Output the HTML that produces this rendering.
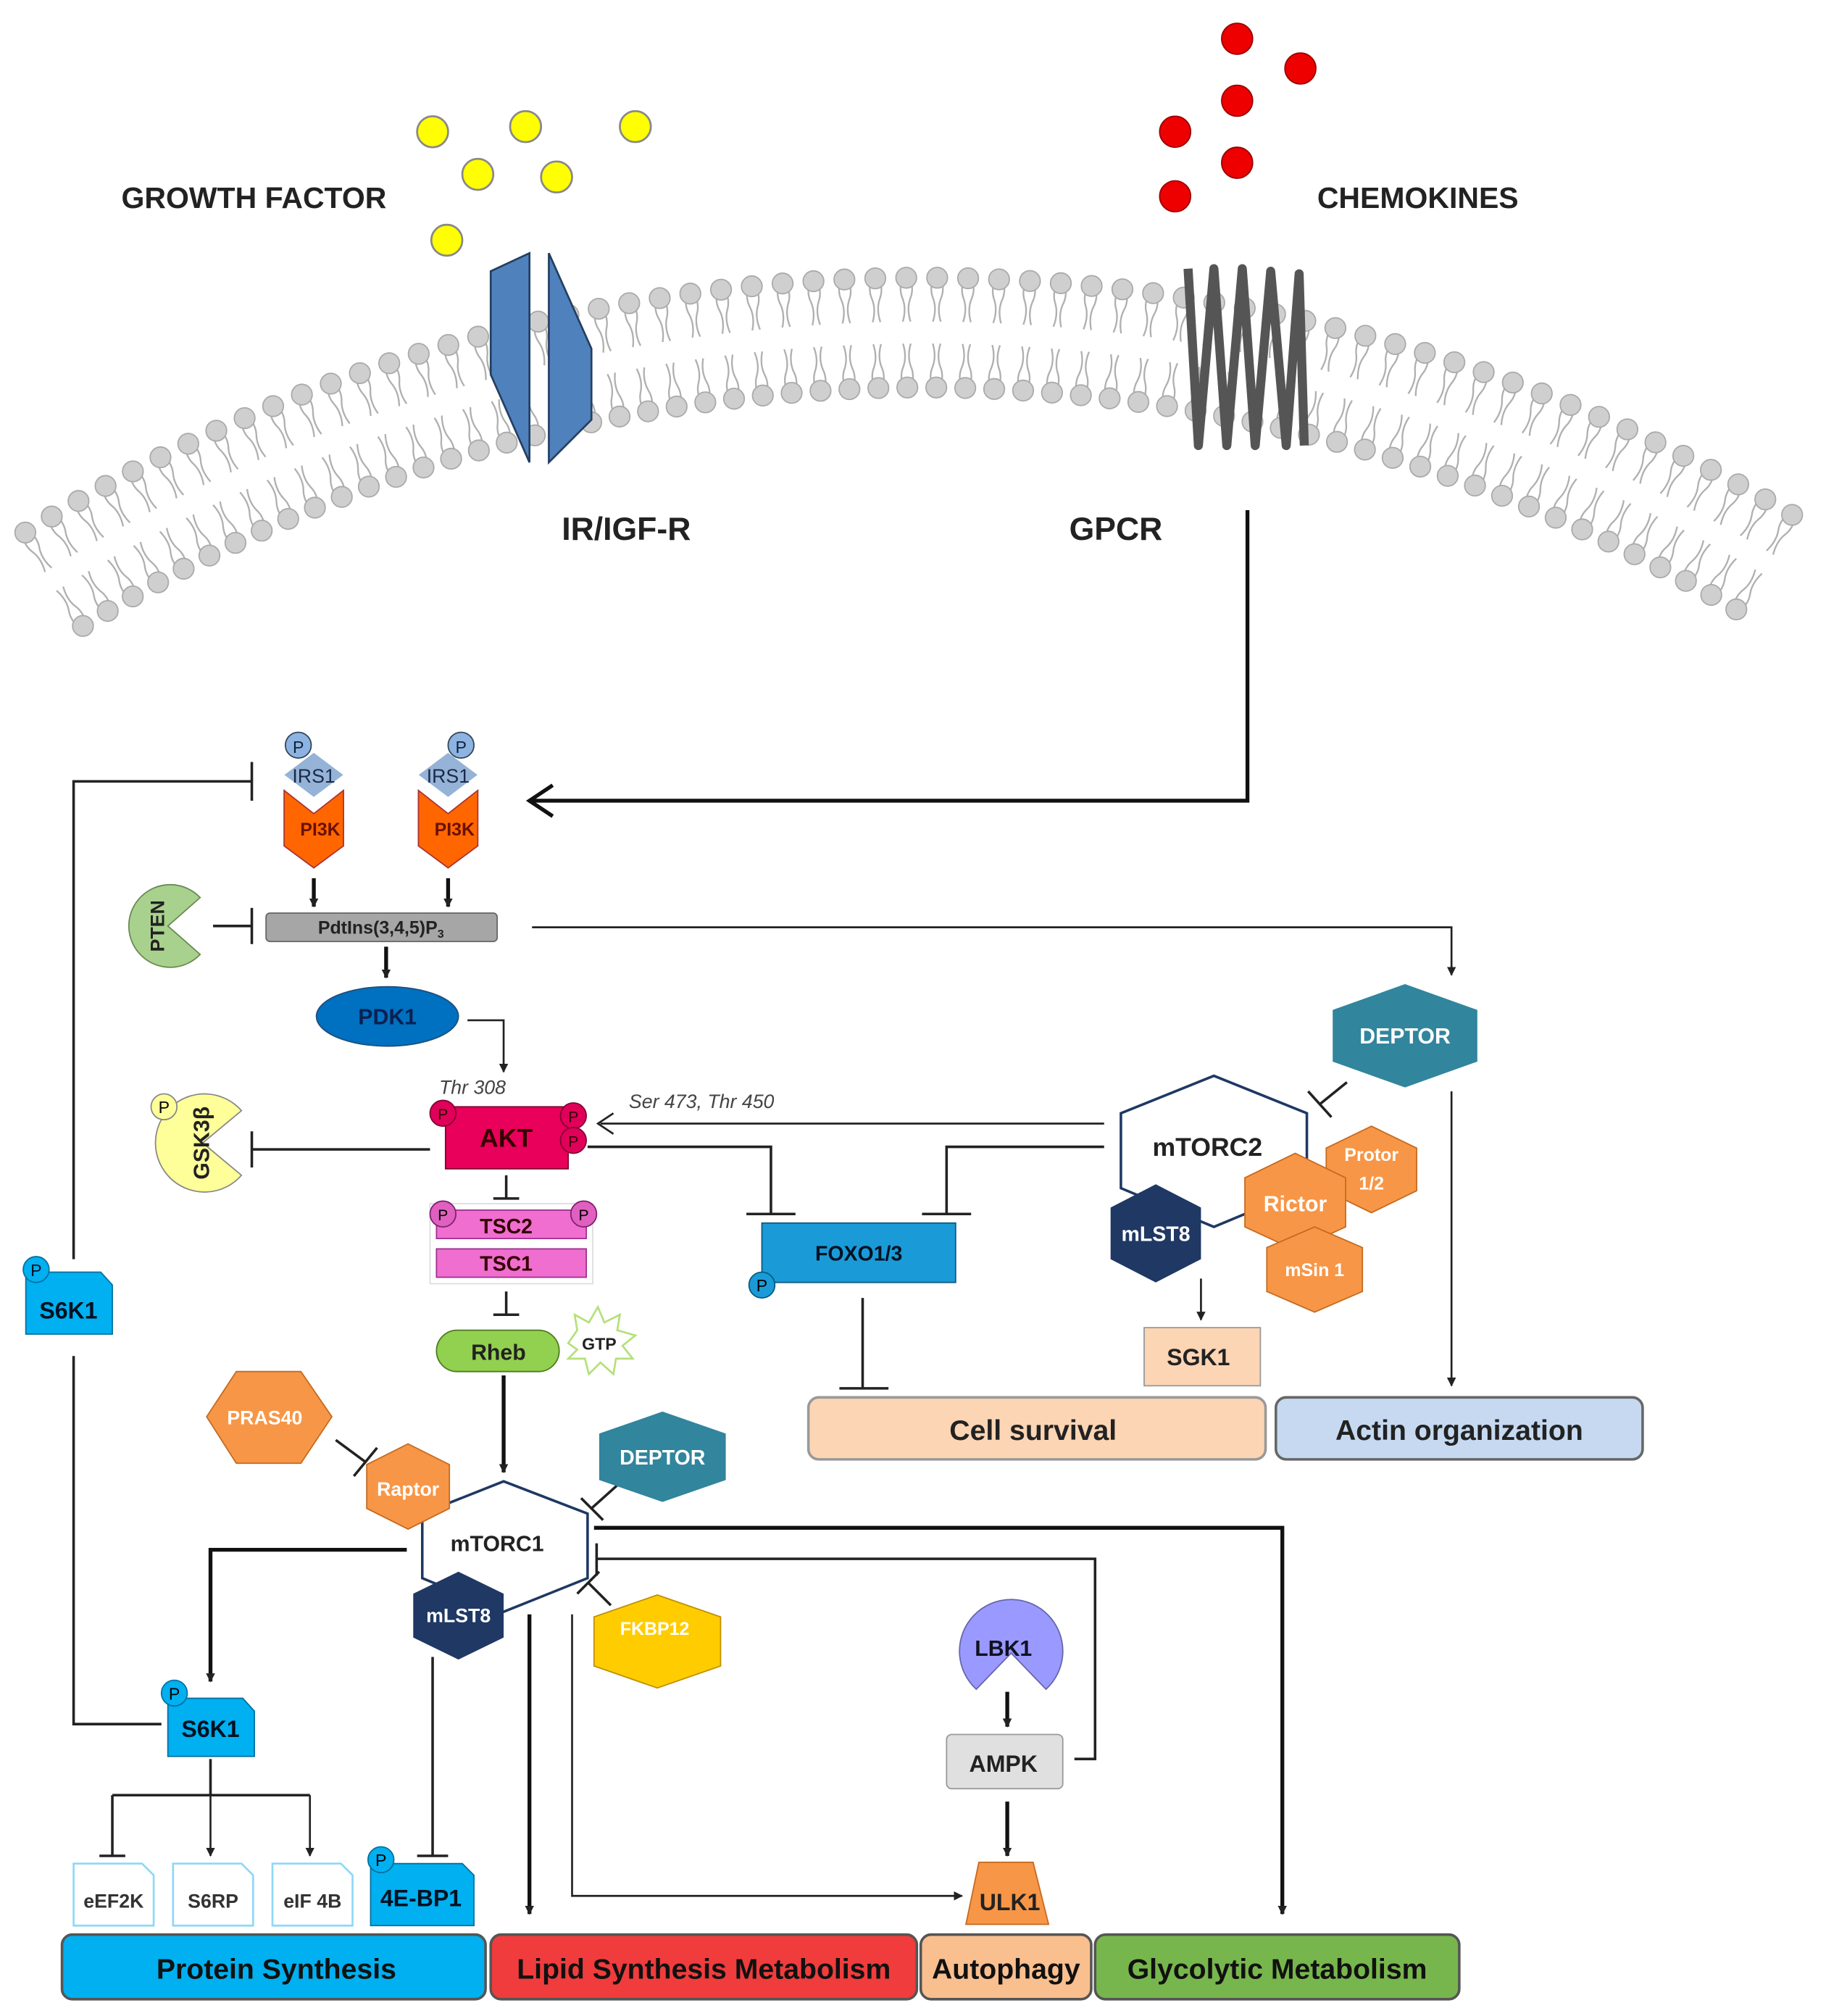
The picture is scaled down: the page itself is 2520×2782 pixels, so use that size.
<!DOCTYPE html>
<html><head><meta charset="utf-8"><style>
html,body{margin:0;padding:0;background:#fff}
svg{display:block}
text{font-family:"Liberation Sans",sans-serif}
</style></head><body>
<svg id="s" width="2520" height="2782" viewBox="0 0 1414 1561" xmlns="http://www.w3.org/2000/svg">
<defs>
<marker id="a" viewBox="0 0 10 10" refX="9" refY="5" markerWidth="7" markerHeight="7" orient="auto" markerUnits="userSpaceOnUse"><path d="M0,0 L10,5 L0,10 z" fill="#222"/></marker>
</defs>
<g id="mem"></g>
<g fill="#ffff00" stroke="#888" stroke-width="1.5">
<circle cx="335" cy="102" r="12"/><circle cx="407" cy="98" r="12"/><circle cx="492" cy="98" r="12"/>
<circle cx="370" cy="135" r="12"/><circle cx="431" cy="137" r="12"/><circle cx="346" cy="186" r="12"/></g>
<g fill="#ee0000" stroke="#900" stroke-width="1">
<circle cx="958" cy="30" r="12"/><circle cx="1007" cy="53" r="12"/><circle cx="958" cy="78" r="12"/>
<circle cx="910" cy="102" r="12"/><circle cx="958" cy="126" r="12"/><circle cx="910" cy="152" r="12"/></g>
<g font-weight="bold" fill="#222" font-size="23">
<text x="94" y="161">GROWTH FACTOR</text><text x="1020" y="161">CHEMOKINES</text>
<text x="435" y="418" font-size="25">IR/IGF-R</text><text x="828" y="418" font-size="25">GPCR</text></g>
<polygon points="380,210 410,196 410,358 380,290" fill="#4f81bd" stroke="#243f60" stroke-width="1.5"/>
<polygon points="425,196 458,270 458,325 425,358" fill="#4f81bd" stroke="#243f60" stroke-width="1.5"/>
<path d="M920,208 L928,345 L940,208 L950,345 L962,208 L972,345 L984,210 L996,345 L1006,212 L1010,345" fill="none" stroke="#555" stroke-width="7" stroke-linejoin="round"/>
<polyline points="966,395 966,620 412,620" fill="none" stroke="#111" stroke-width="3"/>
<polyline points="428,608 410,620 428,632" fill="none" stroke="#111" stroke-width="3"/>
<g stroke="#222" stroke-width="2" fill="none">
<polyline points="57,975 57,605 195,605"/><line x1="195" y1="590" x2="195" y2="620"/>
<polyline points="57,1050 57,1335 125,1335"/>
<line x1="165" y1="717" x2="195" y2="717"/><line x1="195" y1="703" x2="195" y2="731"/>
<polyline points="412,718 1124,718 1124,755" marker-end="url(#a)" stroke-width="1.5"/>
<polyline points="362,790 390,790 390,830" marker-end="url(#a)" stroke-width="1.5"/>
<line x1="855" y1="870" x2="465" y2="870" stroke-width="1.5"/>
<line x1="333" y1="890" x2="195" y2="890"/><line x1="195" y1="876" x2="195" y2="904"/>
<polyline points="455,888 597,888 597,940"/><line x1="578" y1="940" x2="616" y2="940"/>
<polyline points="855,888 733,888 733,940"/><line x1="714" y1="940" x2="752" y2="940"/>
<line x1="392" y1="910" x2="392" y2="928"/><line x1="382" y1="928" x2="402" y2="928"/>
<line x1="392" y1="1000" x2="392" y2="1018"/><line x1="382" y1="1018" x2="402" y2="1018"/>
<line x1="668" y1="1005" x2="668" y2="1075"/><line x1="650" y1="1075" x2="688" y2="1075"/>
<line x1="1043" y1="838" x2="1022" y2="855"/><line x1="1013" y1="845" x2="1031" y2="865"/>
<line x1="1124" y1="845" x2="1124" y2="1073" marker-end="url(#a)" stroke-width="1.5"/>
<line x1="930" y1="990" x2="930" y2="1022" marker-end="url(#a)" stroke-width="1.5"/>
<line x1="260" y1="1115" x2="283" y2="1132"/><line x1="274" y1="1143" x2="292" y2="1121"/>
<line x1="478" y1="1150" x2="458" y2="1168"/><line x1="450" y1="1160" x2="467" y2="1177"/>
<line x1="473" y1="1243" x2="456" y2="1226"/><line x1="447" y1="1234" x2="464" y2="1217"/>
<polyline points="163,1362 163,1390"/><polyline points="87,1390 240,1390"/>
<line x1="87" y1="1390" x2="87" y2="1437"/><line x1="77" y1="1437" x2="97" y2="1437"/>
<line x1="163" y1="1390" x2="163" y2="1437" marker-end="url(#a)" stroke-width="1.5"/>
<line x1="240" y1="1390" x2="240" y2="1437" marker-end="url(#a)" stroke-width="1.5"/>
<line x1="335" y1="1283" x2="335" y2="1437"/><line x1="323" y1="1437" x2="347" y2="1437"/>
<polyline points="443,1250 443,1468 745,1468" marker-end="url(#a)" stroke-width="1.5"/>
<polyline points="832,1362 848,1362 848,1207 462,1207"/><line x1="462" y1="1195" x2="462" y2="1220"/>
</g>
<polyline points="475,862 463,870 475,878" fill="none" stroke="#222" stroke-width="1.5"/>
<g stroke="#111" stroke-width="3" fill="none">
<line x1="243" y1="680" x2="243" y2="702" marker-end="url(#a)"/>
<line x1="347" y1="680" x2="347" y2="702" marker-end="url(#a)"/>
<line x1="299" y1="733" x2="299" y2="757" marker-end="url(#a)"/>
<line x1="390" y1="1065" x2="390" y2="1140" marker-end="url(#a)"/>
<polyline points="315,1200 163,1200 163,1302" marker-end="url(#a)"/>
<line x1="410" y1="1250" x2="410" y2="1482" marker-end="url(#a)"/>
<polyline points="460,1183 993,1183 993,1482" marker-end="url(#a)"/>
<line x1="780" y1="1310" x2="780" y2="1337" marker-end="url(#a)"/>
<line x1="780" y1="1395" x2="780" y2="1437" marker-end="url(#a)"/>
</g>
<g id="ip">
<polygon points="220,612 243,630 266,612 266,655 243,672 220,655" fill="#ff6600" stroke="#a33" stroke-width="1"/>
<polygon points="243,582 267,600 243,618 219,600" fill="#95b3d7" stroke="#fff" stroke-width="1.5"/>
<text x="243" y="606" font-size="15" text-anchor="middle" fill="#1a2a4a">IRS1</text>
<text x="248" y="647" font-size="14" text-anchor="middle" fill="#6a1000" font-weight="bold">PI3K</text>
</g>
<circle cx="231" cy="577" r="10" fill="#8db3e2" stroke="#345" stroke-width="1"/><text x="231" y="583" font-size="13" text-anchor="middle" fill="#123">P</text>
<use href="#ip" x="104"/>
<circle cx="357" cy="577" r="10" fill="#8db3e2" stroke="#345" stroke-width="1"/><text x="357" y="583" font-size="13" text-anchor="middle" fill="#123">P</text>
<rect x="206" y="707" width="179" height="22" rx="3" fill="#a6a6a6" stroke="#666"/>
<text x="295" y="723" font-size="14" text-anchor="middle" fill="#222" font-weight="bold">PdtIns(3,4,5)P<tspan font-size="9" dy="3">3</tspan></text>
<path d="M130,717 L155,695 A32,32 0 1 0 155,739 Z" fill="#a9d18e" stroke="#6a8a50"/>
<text transform="translate(127,717) rotate(-90)" font-size="15" font-weight="bold" text-anchor="middle" fill="#222">PTEN</text>
<ellipse cx="300" cy="787" rx="55" ry="23" fill="#0070c0" stroke="#1f4e79"/>
<text x="300" y="793" font-size="17" font-weight="bold" text-anchor="middle" fill="#0b2050">PDK1</text>
<text x="340" y="847" font-size="15" font-style="italic" fill="#444">Thr 308</text>
<text x="487" y="858" font-size="15" font-style="italic" fill="#444">Ser 473, Thr 450</text>
<rect x="345" y="857" width="95" height="48" fill="#e8005a" stroke="#800030"/>
<text x="392" y="888" font-size="20" font-weight="bold" text-anchor="middle" fill="#300">AKT</text>
<g fill="#e0005a" stroke="#800030"><circle cx="343" cy="862" r="10"/><circle cx="444" cy="864" r="10"/><circle cx="444" cy="883" r="10"/></g>
<g font-size="12" fill="#300" text-anchor="middle"><text x="343" y="867">P</text><text x="444" y="869">P</text><text x="444" y="888">P</text></g>
<path d="M157,885 L187,860 A38,38 0 1 0 187,910 Z" fill="#ffff99" stroke="#888"/>
<circle cx="127" cy="857" r="10" fill="#ffff99" stroke="#888"/><text x="127" y="862" font-size="13" text-anchor="middle">P</text>
<text transform="translate(162,885) rotate(-90)" font-size="17" font-weight="bold" text-anchor="middle" fill="#222">GSK3β</text>
<rect x="333" y="932" width="126" height="62" fill="#fff" stroke="#ddd"/>
<rect x="338" y="937" width="116" height="22" fill="#f06ed0" stroke="#a03090"/>
<rect x="338" y="967" width="116" height="22" fill="#f06ed0" stroke="#a03090"/>
<text x="392" y="955" font-size="16" font-weight="bold" text-anchor="middle" fill="#300">TSC2</text>
<text x="392" y="984" font-size="16" font-weight="bold" text-anchor="middle" fill="#300">TSC1</text>
<g fill="#e060c0" stroke="#802070"><circle cx="343" cy="940" r="10"/><circle cx="452" cy="940" r="10"/></g>
<g font-size="12" text-anchor="middle"><text x="343" y="945">P</text><text x="452" y="945">P</text></g>
<rect x="338" y="1030" width="95" height="32" rx="16" fill="#92d050" stroke="#4e7a1f"/>
<text x="386" y="1053" font-size="17" font-weight="bold" text-anchor="middle" fill="#222">Rheb</text>
<polygon points="440,1040 447,1030 445,1018 456,1024 463,1012 468,1024 480,1018 478,1030 492,1034 482,1042 490,1052 477,1052 475,1064 465,1055 456,1064 453,1052 440,1052 447,1045" fill="#fff" stroke="#b5e07a" stroke-width="1.5"/>
<text x="464" y="1045" font-size="13" font-weight="bold" text-anchor="middle" fill="#222">GTP</text>
<path d="M20,985 L78,985 L87,995 L87,1033 L20,1033 Z" fill="#00b0f0" stroke="#0070a0"/>
<circle cx="28" cy="983" r="10" fill="#00b0f0" stroke="#0070a0"/><text x="28" y="988" font-size="13" text-anchor="middle" fill="#012">P</text>
<text x="53" y="1021" font-size="18" font-weight="bold" text-anchor="middle" fill="#012">S6K1</text>
<rect x="590" y="947" width="150" height="46" fill="#1a9bd7" stroke="#0a5a80"/>
<text x="665" y="976" font-size="16" font-weight="bold" text-anchor="middle" fill="#012">FOXO1/3</text>
<circle cx="590" cy="995" r="10" fill="#1a9bd7" stroke="#0a5a80"/><text x="590" y="1000" font-size="13" text-anchor="middle">P</text>
<rect x="626" y="1082" width="354" height="48" rx="8" fill="#fcd5b4" stroke="#999" stroke-width="2"/>
<text x="800" y="1115" font-size="22" font-weight="bold" text-anchor="middle" fill="#222">Cell survival</text>
<rect x="988" y="1082" width="284" height="48" rx="8" fill="#c6d9f1" stroke="#666" stroke-width="2"/>
<text x="1130" y="1115" font-size="22" font-weight="bold" text-anchor="middle" fill="#222">Actin organization</text>
<polygon points="1088,762 1144,782 1144,822 1088,842 1032,822 1032,782" fill="#31859c"/>
<text x="1088" y="808" font-size="17" font-weight="bold" text-anchor="middle" fill="#fff">DEPTOR</text>
<polygon points="940,833 1012,862 1012,920 940,950 868,920 868,862" fill="#fff" stroke="#1f3864" stroke-width="2"/>
<text x="935" y="895" font-size="20" font-weight="bold" text-anchor="middle" fill="#222">mTORC2</text>
<polygon points="895,917 930,935 930,975 895,993 860,975 860,935" fill="#1f3864"/>
<text x="895" y="961" font-size="16" font-weight="bold" text-anchor="middle" fill="#fff">mLST8</text>
<polygon points="1062,872 1097,889 1097,922 1062,939 1027,922 1027,889" fill="#f79646" stroke="#c46a20"/>
<text x="1062" y="899" font-size="14" font-weight="bold" text-anchor="middle" fill="#fff">Protor</text>
<text x="1062" y="921" font-size="14" font-weight="bold" text-anchor="middle" fill="#fff">1/2</text>
<polygon points="1003,893 1042,912 1042,950 1003,968 964,950 964,912" fill="#f79646" stroke="#c46a20"/>
<text x="1003" y="938" font-size="17" font-weight="bold" text-anchor="middle" fill="#fff">Rictor</text>
<polygon points="1018,950 1055,966 1055,1000 1018,1016 981,1000 981,966" fill="#f79646" stroke="#c46a20"/>
<text x="1018" y="988" font-size="14" font-weight="bold" text-anchor="middle" fill="#fff">mSin 1</text>
<rect x="886" y="1028" width="90" height="45" fill="#fcd5b4" stroke="#999"/>
<text x="928" y="1057" font-size="18" font-weight="bold" text-anchor="middle" fill="#222">SGK1</text>
<polygon points="160,1097 183,1062 233,1062 257,1097 233,1133 183,1133" fill="#f79646" stroke="#c46a20"/>
<text x="205" y="1103" font-size="15" font-weight="bold" text-anchor="middle" fill="#fff">PRAS40</text>
<polygon points="390,1147 455,1172 455,1222 390,1248 327,1222 327,1172" fill="#fff" stroke="#1f3864" stroke-width="2"/>
<text x="385" y="1201" font-size="17" font-weight="bold" text-anchor="middle" fill="#222">mTORC1</text>
<polygon points="316,1118 348,1134 348,1168 316,1184 284,1168 284,1134" fill="#f79646" stroke="#c46a20"/>
<text x="316" y="1158" font-size="15" font-weight="bold" text-anchor="middle" fill="#fff">Raptor</text>
<polygon points="513,1093 562,1110 562,1146 513,1163 464,1146 464,1110" fill="#31859c"/>
<text x="513" y="1134" font-size="16" font-weight="bold" text-anchor="middle" fill="#fff">DEPTOR</text>
<polygon points="355,1217 390,1234 390,1268 355,1285 320,1268 320,1234" fill="#1f3864"/>
<text x="355" y="1256" font-size="15" font-weight="bold" text-anchor="middle" fill="#fff">mLST8</text>
<polygon points="509,1235 558,1252 558,1290 509,1307 460,1290 460,1252" fill="#ffcc00" stroke="#c09000"/>
<text x="507" y="1266" font-size="14" font-weight="bold" text-anchor="middle" fill="#fff">FKBP12</text>
<path d="M130,1315 L188,1315 L197,1325 L197,1360 L130,1360 Z" fill="#00b0f0" stroke="#0070a0"/>
<circle cx="135" cy="1311" r="10" fill="#00b0f0" stroke="#0070a0"/><text x="135" y="1316" font-size="13" text-anchor="middle">P</text>
<text x="163" y="1345" font-size="18" font-weight="bold" text-anchor="middle" fill="#012">S6K1</text>
<g fill="#fff" stroke="#8ed8f8" stroke-width="1.5">
<path d="M57,1443 L110,1443 L119,1452 L119,1491 L57,1491 Z"/>
<path d="M134,1443 L187,1443 L196,1452 L196,1491 L134,1491 Z"/>
<path d="M211,1443 L264,1443 L273,1452 L273,1491 L211,1491 Z"/></g>
<g font-size="15" font-weight="bold" text-anchor="middle" fill="#333">
<text x="88" y="1477">eEF2K</text><text x="165" y="1477">S6RP</text><text x="242" y="1477">eIF 4B</text></g>
<path d="M287,1443 L358,1443 L367,1452 L367,1491 L287,1491 Z" fill="#00b0f0" stroke="#0070a0"/>
<circle cx="295" cy="1440" r="10" fill="#00b0f0" stroke="#0070a0"/><text x="295" y="1445" font-size="13" text-anchor="middle">P</text>
<text x="326" y="1476" font-size="18" font-weight="bold" text-anchor="middle" fill="#012">4E-BP1</text>
<path d="M783,1280 L810,1308 A40,40 0 1 0 756,1308 Z" fill="#9999ff" stroke="#6666aa"/>
<text x="777" y="1282" font-size="17" font-weight="bold" text-anchor="middle" fill="#112">LBK1</text>
<rect x="733" y="1343" width="90" height="42" rx="4" fill="#e0e0e0" stroke="#999"/>
<text x="777" y="1372" font-size="18" font-weight="bold" text-anchor="middle" fill="#222">AMPK</text>
<polygon points="758,1442 800,1442 812,1490 748,1490" fill="#f79646" stroke="#c46a20"/>
<text x="782" y="1479" font-size="18" font-weight="bold" text-anchor="middle" fill="#222">ULK1</text>
<g stroke="#555" stroke-width="2">
<rect x="48" y="1498" width="328" height="50" rx="8" fill="#00b0f0"/>
<rect x="380" y="1498" width="330" height="50" rx="8" fill="#f03c3c"/>
<rect x="713" y="1498" width="132" height="50" rx="8" fill="#fabf8f"/>
<rect x="848" y="1498" width="282" height="50" rx="8" fill="#77b64c"/></g>
<g font-size="22" font-weight="bold" text-anchor="middle" fill="#111">
<text x="214" y="1532">Protein Synthesis</text><text x="545" y="1532">Lipid Synthesis Metabolism</text>
<text x="779" y="1532">Autophagy</text><text x="989" y="1532">Glycolytic Metabolism</text></g>
</svg>
<script>
(function(){
var g=document.getElementById('mem'),cx=715,cy=1539,Ro=1324,Ri=1239,h='';
function tail(x,y,dx,dy,px,py){
 // wavy tail from head along (dx,dy), perpendicular (px,py)
 var p='M'+x+','+y;
 p+=' Q'+(x+dx*9+px*3)+','+(y+dy*9+py*3)+' '+(x+dx*16)+','+(y+dy*16);
 p+=' Q'+(x+dx*24-px*3)+','+(y+dy*24-py*3)+' '+(x+dx*34)+','+(y+dy*34);
 return '<path d="'+p+'" fill="none" stroke="#b0b0b0" stroke-width="1.3"/>';
}
for(var t=-0.553;t<=0.55;t+=0.0181){
 var s=Math.sin(t),c=Math.cos(t);
 var ox=cx+Ro*s,oy=cy-Ro*c,ix=cx+Ri*s,iy=cy-Ri*c;
 var px=c,py=s;
 for(var k=-1;k<=1;k+=2){
  h+=tail(ox+k*px*3,oy+k*py*3,-s,c,k*px,k*py);
  h+=tail(ix+k*px*3,iy+k*py*3,s,-c,k*px,k*py);
 }
 h+='<circle cx="'+ox+'" cy="'+oy+'" r="8" fill="#cfcfcf" stroke="#aaa"/>';
 h+='<circle cx="'+ix+'" cy="'+iy+'" r="8" fill="#cfcfcf" stroke="#aaa"/>';
}
g.innerHTML=h;
})();
</script>
</body></html>
